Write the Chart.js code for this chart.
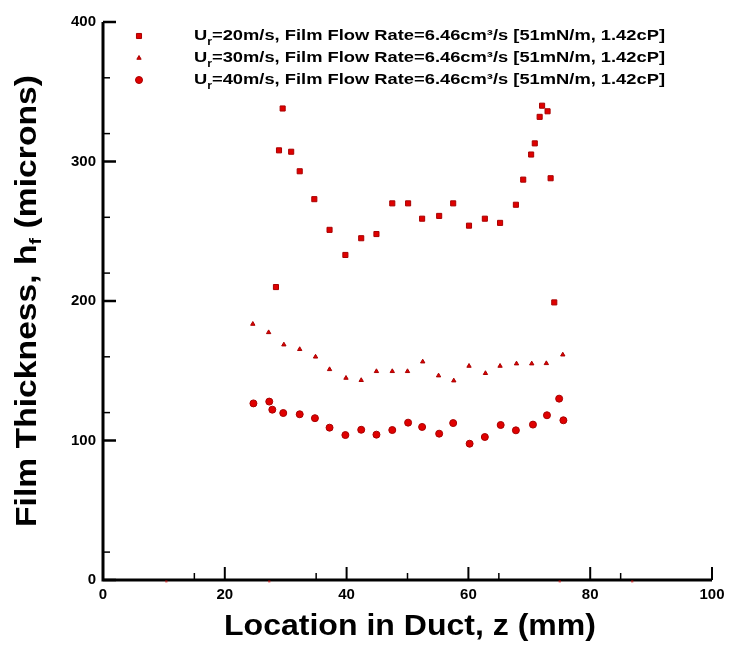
<!DOCTYPE html>
<html>
<head>
<meta charset="utf-8">
<script src="https://cdn.jsdelivr.net/npm/chart.js@4"></script>
<style>
html,body{margin:0;padding:0;background:#fff;}
#c{display:block;}
</style>
</head>
<body>
<canvas id="c" width="737" height="647"></canvas>
<script>
// ---------- data ----------
const xTickValues = [0, 20, 40, 60, 80, 100];
const yTickValues = [0, 100, 200, 300, 400];
const xMinorTicks = [15, 35, 50, 65, 85];
const yMinorTicks = [20, 120, 160, 220, 260, 320, 360];

const s1X = [28.4, 28.9, 29.5, 30.9, 32.3, 34.7, 37.2, 39.8, 42.4, 44.9, 47.5, 50.1, 52.4, 55.2, 57.5, 60.1, 62.7, 65.2, 67.8, 69.0, 70.3, 70.9, 71.7, 72.1, 73.0, 73.5, 74.1];
const s1Y = [210, 308, 338, 307, 293, 273, 251, 233, 245, 248, 270, 270, 259, 261, 270, 254, 259, 256, 269, 287, 305, 313, 332, 340, 336, 288, 199];

const s2X = [24.6, 27.2, 29.7, 32.3, 34.9, 37.2, 39.9, 42.4, 44.9, 47.5, 50.0, 52.5, 55.1, 57.6, 60.1, 62.8, 65.2, 67.9, 70.4, 72.8, 75.5];
const s2Y = [183.5, 177.5, 168.7, 165.4, 160, 151, 144.8, 143.2, 149.6, 149.6, 149.6, 156.5, 146.5, 142.9, 153.4, 148.2, 153.4, 155.1, 155.1, 155.3, 161.5];

const s3X = [24.7, 27.3, 27.8, 29.6, 32.3, 34.8, 37.2, 39.8, 42.4, 44.9, 47.5, 50.1, 52.4, 55.2, 57.5, 60.2, 62.7, 65.3, 67.8, 70.6, 72.9, 74.9, 75.6];
const s3Y = [126.6, 127.9, 122.1, 119.7, 118.8, 116, 109.2, 103.9, 107.7, 104.2, 107.5, 112.8, 109.7, 104.9, 112.5, 97.7, 102.5, 111.1, 107.3, 111.4, 118.1, 130, 114.5];

const strayX = [10.4, 27.3, 75.0, 86.9];
const strayY = [-1, -1, -1, -1];

const legendPrefix = 'U';
const legendSub = 'r';
const legendTexts = [
  '=20m/s, Film Flow Rate=6.46cm\u00B3/s [51mN/m, 1.42cP]',
  '=30m/s, Film Flow Rate=6.46cm\u00B3/s [51mN/m, 1.42cP]',
  '=40m/s, Film Flow Rate=6.46cm\u00B3/s [51mN/m, 1.42cP]'
];
const xTitle = 'Location in Duct, z (mm)';
const yTitleMain = 'Film Thickness, h';
const yTitleSub = 'f';
const yTitleEnd = ' (microns)';

// ---------- build ----------
const toPts = (xs, ys) => xs.map((v, i) => ({x: v, y: ys[i]}));
const RED = '#e00000', DARK = '#a80000';
const styles = [
  {pointStyle: 'rect', radius: 3.6},
  {pointStyle: 'triangle', radius: 2.5},
  {pointStyle: 'circle', radius: 3.5}
];

const datasets = [
  {data: toPts(s1X, s1Y)},
  {data: toPts(s2X, s2Y)},
  {data: toPts(s3X, s3Y)}
].map((d, i) => Object.assign(d, {
  label: legendPrefix + legendSub + legendTexts[i],
  pointStyle: styles[i].pointStyle,
  pointRadius: styles[i].radius,
  pointHoverRadius: styles[i].radius,
  backgroundColor: RED,
  borderColor: DARK,
  borderWidth: 1,
  showLine: false
}));
datasets.push({
  label: 'stray',
  data: toPts(strayX, strayY),
  pointStyle: 'rect',
  pointRadius: 1.6,
  backgroundColor: 'rgba(220,0,0,0.55)',
  borderWidth: 0,
  clip: false,
  showLine: false
});

const FONT = "'Liberation Sans', Arial, Helvetica, sans-serif";

const decor = {
  id: 'decor',
  beforeDatasetsDraw(chart) {
    const {ctx, chartArea: a, scales: {x, y}} = chart;
    ctx.save();
    ctx.strokeStyle = '#000';
    ctx.lineCap = 'butt';
    ctx.lineJoin = 'miter';
    ctx.lineWidth = 3;
    ctx.beginPath();
    ctx.moveTo(a.left, a.top);
    ctx.lineTo(a.left, a.bottom);
    ctx.lineTo(a.right, a.bottom);
    ctx.stroke();
    const seg = (x1, y1, x2, y2, w) => {
      ctx.lineWidth = w; ctx.beginPath(); ctx.moveTo(x1, y1); ctx.lineTo(x2, y2); ctx.stroke();
    };
    x.ticks.forEach(t => { const p = x.getPixelForValue(t.value); seg(p, a.bottom, p, a.bottom - 13, 2); });
    y.ticks.forEach(t => { const p = y.getPixelForValue(t.value); seg(a.left, p, a.left + 13, p, 2.5); });
    xMinorTicks.forEach(v => { const p = x.getPixelForValue(v); seg(p, a.bottom, p, a.bottom - 7, 1.5); });
    yMinorTicks.forEach(v => { const p = y.getPixelForValue(v); seg(a.left, p, a.left + 7, p, 1.5); });
    ctx.restore();
  },
  afterDraw(chart) {
    const {ctx, chartArea: a} = chart;
    ctx.save();
    ctx.fillStyle = '#000';
    // x title
    ctx.font = 'bold 29px ' + FONT;
    ctx.textBaseline = 'alphabetic';
    ctx.textAlign = 'left';
    const xw = ctx.measureText(xTitle).width;
    const xs = 372 / xw;
    ctx.save();
    ctx.translate(410, 635);
    ctx.scale(xs, 1);
    ctx.fillText(xTitle, -xw / 2, 0);
    ctx.restore();

    // y title (rotated, with subscript)
    const mainFont = 'bold 29px ' + FONT, subFont = 'bold 17px ' + FONT;
    ctx.font = mainFont;
    const w1 = ctx.measureText(yTitleMain).width;
    const w3 = ctx.measureText(yTitleEnd).width;
    ctx.font = subFont;
    const w2 = ctx.measureText(yTitleSub).width;
    const tot = w1 + w2 + w3;
    const ys = 452 / tot;
    ctx.save();
    ctx.translate(36, (a.top + a.bottom) / 2);
    ctx.rotate(-Math.PI / 2);
    ctx.scale(ys, 1);
    let cx = -tot / 2;
    ctx.font = mainFont; ctx.fillText(yTitleMain, cx, 0); cx += w1;
    ctx.font = subFont; ctx.fillText(yTitleSub, cx, 5); cx += w2;
    ctx.font = mainFont; ctx.fillText(yTitleEnd, cx, 0);
    ctx.restore();

    // legend
    const rows = [36, 58, 80];
    const lf = 'bold 15px ' + FONT, sf = 'bold 10px ' + FONT;
    legendTexts.forEach((txt, i) => {
      const yy = rows[i];
      ctx.fillStyle = RED; ctx.strokeStyle = DARK; ctx.lineWidth = 1;
      Chart.helpers.drawPoint(ctx, {pointStyle: styles[i].pointStyle, radius: styles[i].radius, rotation: 0, borderWidth: 1}, 139, yy);
      ctx.fillStyle = '#000';
      ctx.textBaseline = 'middle';
      ctx.font = lf;
      const pw = ctx.measureText(legendPrefix).width;
      const tw = ctx.measureText(txt).width;
      ctx.font = sf;
      const sw = ctx.measureText(legendSub).width;
      const total = pw + sw + tw;
      const sc = (665 - 194) / total;
      ctx.save();
      ctx.translate(194, yy);
      ctx.scale(sc, 1);
      ctx.font = lf; ctx.fillText(legendPrefix, 0, 0);
      ctx.font = sf; ctx.fillText(legendSub, pw, 6);
      ctx.font = lf; ctx.fillText(txt, pw + sw, 0);
      ctx.restore();
    });
    ctx.restore();
  }
};

new Chart(document.getElementById('c'), {
  type: 'scatter',
  data: {datasets},
  options: {
    responsive: false,
    devicePixelRatio: 1,
    animation: false,
    layout: {padding: {top: 22, right: 25, left: 0, bottom: 0}},
    plugins: {legend: {display: false}, tooltip: {enabled: false}},
    scales: {
      x: {
        type: 'linear', min: 0, max: 100,
        afterBuildTicks: s => { s.ticks = xTickValues.map(v => ({value: v})); },
        afterFit: s => { s.height = 67; },
        grid: {display: false, drawTicks: false},
        border: {display: false},
        ticks: {color: '#000', padding: 6, maxRotation: 0, font: {family: FONT, size: 15, weight: 'bold'}}
      },
      y: {
        type: 'linear', min: 0, max: 400,
        afterBuildTicks: s => { s.ticks = yTickValues.map(v => ({value: v})); },
        afterFit: s => { s.width = 103; },
        grid: {display: false, drawTicks: false},
        border: {display: false},
        ticks: {color: '#000', padding: 7, font: {family: FONT, size: 15, weight: 'bold'}}
      }
    }
  },
  plugins: [decor]
});
</script>
</body>
</html>
